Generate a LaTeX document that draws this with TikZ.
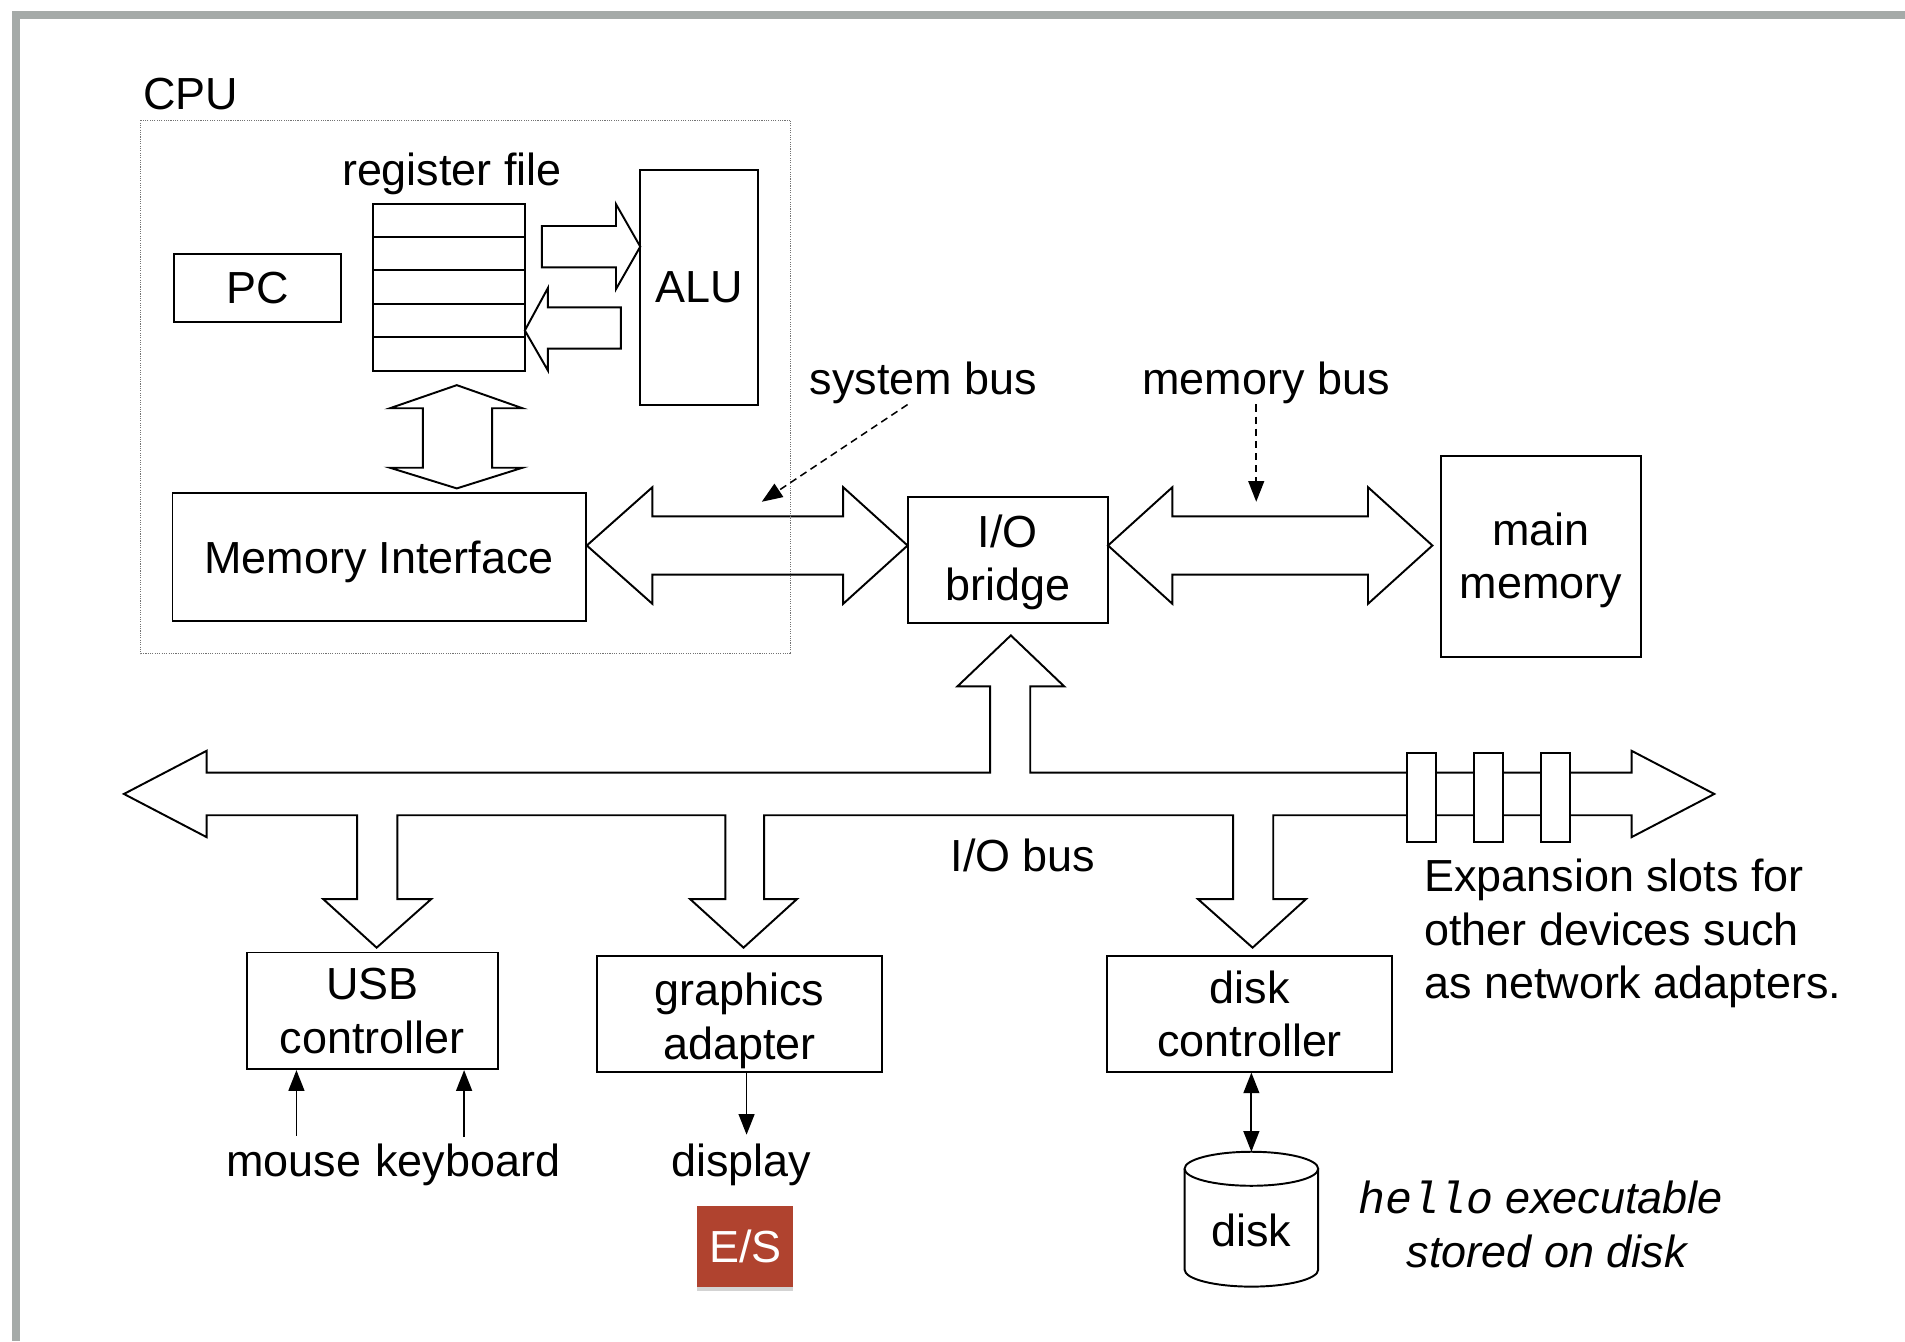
\documentclass[tikz,border=0pt]{standalone}
\usepackage{fontspec}
\setmainfont{Liberation Sans}
\setmonofont{Liberation Mono}
\usetikzlibrary{arrows.meta,shadows}
\definecolor{bordergray}{HTML}{A5AAA8}
\definecolor{esred}{HTML}{B0432F}
\begin{document}
\begin{tikzpicture}[x=1pt,y=-1pt,
  every node/.style={font=\fontsize{37}{44}\selectfont, inner sep=0pt},
  box/.style={draw, line width=1.6pt, align=center},
  blockarrow/.style={draw, fill=white, line width=1.6pt, line join=miter},
  thinarrow/.style={line width=1.5pt, -{Triangle[length=17pt,width=13pt]}},
  pointer/.style={line width=1.3pt, dash pattern=on 6pt off 4pt, -{Triangle[length=17pt,width=13pt]}}]

\useasboundingbox (0,0) rectangle (1568,1104);
% frame
\fill[bordergray] (9.6,9) rectangle (1568,15.6);
\fill[bordergray] (9.6,9) rectangle (16.5,1104);

% CPU internals
\node[anchor=base] (cpul) at (157,90) {CPU};
\node[anchor=base] (rfl) at (372,153) {register file};
\node[box, minimum width=138pt, minimum height=56pt, text depth=0pt] (pc) at (212,237) {PC};
\node[box, minimum width=125pt, minimum height=137pt] (rf) at (369.5,236.5) {};
\foreach \yy in {195,222,250,277} \draw[line width=1.6pt] (rf.west |- 0,\yy) -- (rf.east |- 0,\yy);
\node[box, minimum width=97pt, minimum height=193pt, text depth=0pt] (alu) at (575.5,236.5) {ALU};
\node[box, minimum width=340pt, minimum height=105pt, text depth=0pt] (mi) at (312,458.5) {Memory Interface};

% register file <-> ALU
\draw[blockarrow] (446,186) -- (507,186) -- (507,168) -- (527,203) -- (507,238) -- (507,220) -- (446,220) -- cycle;
\draw[blockarrow] (511,253) -- (451,253) -- (451,237) -- (432,272) -- (451,305) -- (451,287) -- (511,287) -- cycle;
% register file <-> memory interface
\draw[blockarrow] (376,317) -- (430,336) -- (405,336) -- (405,385) -- (430,385) -- (376,402) -- (321,385) -- (348,385) -- (348,336) -- (321,336) -- cycle;

% bridge and memory
\node[box, minimum width=165pt, minimum height=104pt] (iob) at (829.5,461) {\rule{0pt}{31pt}I/O\\bridge};
\node[box, minimum width=165pt, minimum height=165pt] (mm) at (1268.5,458) {\rule{0pt}{33pt}main\\memory};

% system bus
\draw[blockarrow] (483,449) -- (537,401) -- (537,425) -- (694,425) -- (694,401) -- (747,449) -- (694,497) -- (694,473) -- (537,473) -- (537,497) -- cycle;
% memory bus
\draw[blockarrow] (912,449) -- (965,401) -- (965,425) -- (1126,425) -- (1126,401) -- (1179,449) -- (1126,497) -- (1126,473) -- (965,473) -- (965,497) -- cycle;

% CPU dotted frame
\draw[densely dotted, line width=0.9pt, draw=black!55] (116,99) rectangle (651,538);

% labels and pointers
\node[anchor=base] (sbl) at (760,325) {system bus};
\node[anchor=base] (mbl) at (1042,325) {memory bus};
\coordinate (sbfrom) at (747,333);
\coordinate (sbtip) at (627,413);
\coordinate (mbtip) at (1034,413);
\draw[pointer] (sbfrom) -- (sbtip);
\draw[pointer] (mbl.south -| mbtip) -- (mbtip);

% I/O bus
\draw[blockarrow] (102,653.5) -- (170,618) -- (170,636) -- (815,636) -- (815,565) -- (788,565) -- (832,523) -- (876,565) -- (848,565) -- (848,636) -- (1343,636) -- (1343,618) -- (1411,653.5) -- (1343,689) -- (1343,671) -- (1048,671) -- (1048,740) -- (1075,740) -- (1031,780) -- (986,740) -- (1015,740) -- (1015,671) -- (629,671) -- (629,740) -- (656,740) -- (612,780) -- (568,740) -- (597,740) -- (597,671) -- (327,671) -- (327,740) -- (355,740) -- (310,780) -- (266,740) -- (294,740) -- (294,671) -- (170,671) -- (170,689) -- cycle;
% expansion slots
\foreach \sx in {1158,1213,1268} \draw[fill=white, line width=1.6pt] (\sx,620) rectangle (\sx+24,693);
\node[anchor=base] (iobusl) at (842,717) {I/O bus};
\node[anchor=north west, align=left] (expl) at (1172,707) {Expansion slots for\\other devices such\\as network adapters.};

% devices
\node[box, minimum width=207pt, minimum height=96pt] (usb) at (306.5,832) {USB\\controller};
\node[box, minimum width=235pt, minimum height=95pt] (gfx) at (608.5,834.5) {\rule{0pt}{38pt}graphics\\adapter};
\node[box, minimum width=235pt, minimum height=95pt] (dc) at (1028.5,834.5) {disk\\controller};

\node[anchor=base] (mouse) at (242,968) {mouse};
\node[anchor=base] (kbd) at (385,968) {keyboard};
\node[anchor=base] (disp) at (610,968) {display};
\draw[thinarrow] ([xshift=2pt,yshift=13pt]mouse.north) -- ([xshift=2pt]mouse.north |- usb.south);
\draw[thinarrow] ([xshift=-3pt,yshift=5pt]kbd.north) -- ([xshift=-3pt]kbd.north |- usb.south);
\draw[thinarrow] ([xshift=6pt]gfx.south) -- ([xshift=6pt,yshift=7pt]gfx.south |- disp.north);

% disk
\draw[line width=1.6pt, fill=white] (975,962) -- (975,1045) arc[start angle=180, end angle=360, x radius=55pt, y radius=14pt] -- (1085,962);
\draw[line width=1.6pt, fill=white] (1030,962) ellipse [x radius=55pt, y radius=14pt];
\node[anchor=base] (disk) at (1030,1026) {disk};
\coordinate (disktop) at (1030,948);
\draw[line width=1.5pt, {Triangle[length=17pt,width=13pt]}-{Triangle[length=17pt,width=13pt]}] ([xshift=1.5pt]dc.south) -- (disktop);
\node[anchor=north, align=center] (hello) at (1268,972) {\textit{\texttt{hello} executable}\\\hspace*{12pt}\textit{stored on disk}};

% E/S badge
\node[fill=esred, text=white, minimum width=79pt, minimum height=66pt, text depth=0pt,
  drop shadow={shadow xshift=0pt, shadow yshift=-4pt, opacity=0.35}] (es) at (613.5,1026) {E/S};
\end{tikzpicture}
\end{document}
